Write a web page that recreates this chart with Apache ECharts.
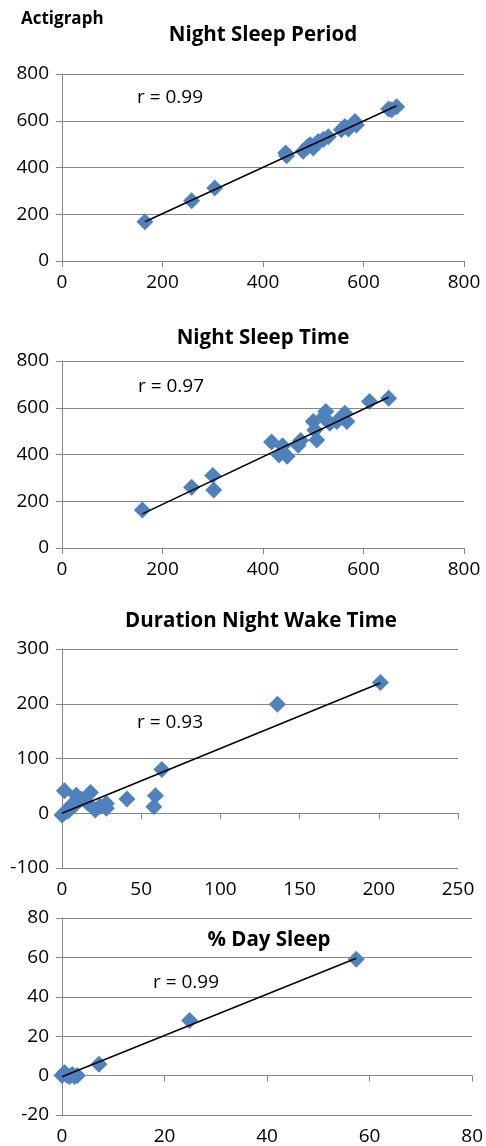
<!DOCTYPE html>
<html><head><meta charset="utf-8">
<script src="https://cdn.jsdelivr.net/npm/echarts@6/dist/echarts.min.js"></script>
<style>html,body{margin:0;padding:0;background:#fff}#c{width:486px;height:1146px}</style>
</head><body><div id="c"></div>
<script>
// Panel 1: Night Sleep Period
const x1 = [165, 258, 304, 445, 447, 480, 490, 494, 500, 505, 510, 520, 530, 556, 563, 570, 583, 586, 650, 656, 666];
const y1 = [168, 258, 312, 462, 450, 470, 492, 497, 483, 500, 511, 520, 532, 561, 575, 565, 597, 582, 650, 647, 660];
const trend1 = [[165, 168], [666, 664]];
// Panel 2: Night Sleep Time
const x2 = [160, 258, 300, 302, 417, 432, 439, 448, 470, 475, 500, 503, 507, 520, 525, 533, 547, 563, 567, 612, 650];
const y2 = [163, 260, 310, 248, 453, 398, 437, 393, 440, 460, 541, 505, 462, 560, 584, 534, 541, 577, 541, 627, 641];
const trend2 = [[160, 146], [650, 645]];
// Panel 3: Duration Night Wake Time
const x3 = [0, 1.5, 2, 4, 5, 6, 8, 9, 10, 12, 16, 18, 21, 24, 28, 28, 41, 58, 59, 63, 136, 201];
const y3 = [-3, 41, 2, 4, 8, 15, 15, 33, 22, 26, 19, 38, 6, 13, 18, 9, 26, 12, 32, 80, 199, 239];
const trend3 = [[0, 0], [201, 238]];
// Panel 4: % Day Sleep
const x4 = [0, 0.5, 1, 1.5, 2, 2.5, 3, 7.2, 24.9, 57.4];
const y4 = [0, 1.5, 0, -0.5, 0.5, -0.5, 0, 5.8, 28, 59];
const trend4 = [[0, -0.6], [57.4, 59.6]];

const titles = ['Night Sleep Period', 'Night Sleep Time', 'Duration Night Wake Time', '% Day Sleep'];
const rLabels = ['r = 0.99', 'r = 0.97', 'r = 0.93', 'r = 0.99'];
const xRanges = [[0, 800, 200], [0, 800, 200], [0, 250, 50], [0, 80, 20]];
const yRanges = [[0, 800, 200], [0, 800, 200], [-100, 300, 100], [-20, 80, 20]];

const FONT = '"Open Sans", "Noto Sans", sans-serif';
const GRAY = '#868686';
const BLUE = '#4F81BD';

const grids = [
  {left: 62, top: 74, width: 402, height: 187},
  {left: 62, top: 361, width: 402, height: 187},
  {left: 62, top: 649, width: 396, height: 219},
  {left: 62, top: 918, width: 414, height: 218}
];
const titlePos = [[263, 35], [263, 338], [261, 621], [269, 940]];
const rPos = [[137, 98], [138, 387], [137, 723], [153, 983]];

const xs = [x1, x2, x3, x4], ys = [y1, y2, y3, y4], trends = [trend1, trend2, trend3, trend4];

const xAxis = [], yAxis = [], series = [], graphic = [];
for (let i = 0; i < 4; i++) {
  xAxis.push({
    type: 'value', gridIndex: i, min: xRanges[i][0], max: xRanges[i][1], interval: xRanges[i][2],
    axisLine: {onZero: true, lineStyle: {color: GRAY, width: 1}},
    axisTick: {show: true, length: 6, lineStyle: {color: GRAY}},
    axisLabel: {color: '#000', fontSize: 19, fontFamily: FONT, margin: 12, showMaxLabel: true, showMinLabel: true},
    splitLine: {show: false}
  });
  yAxis.push({
    type: 'value', gridIndex: i, min: yRanges[i][0], max: yRanges[i][1], interval: yRanges[i][2],
    axisLine: {show: true, onZero: false, lineStyle: {color: GRAY, width: 1}},
    axisTick: {show: true, length: 6, lineStyle: {color: GRAY}},
    axisLabel: {color: '#000', fontSize: 19, fontFamily: FONT, margin: 13},
    splitLine: {show: true, lineStyle: {color: GRAY, width: 1}}
  });
  series.push({
    type: 'scatter', xAxisIndex: i, yAxisIndex: i, symbol: 'diamond', symbolSize: 17,
    itemStyle: {color: BLUE, opacity: 1}, data: xs[i].map((v, k) => [v, ys[i][k]]), z: 2, silent: true
  });
  series.push({
    type: 'line', xAxisIndex: i, yAxisIndex: i, data: trends[i], symbol: 'none',
    lineStyle: {color: '#000', width: 1.5}, z: 3, silent: true, animation: false
  });
  graphic.push({type: 'text', x: titlePos[i][0], y: titlePos[i][1], z: 10,
    style: {text: titles[i], font: 'bold 20.5px ' + FONT, fill: '#000', textAlign: 'center', textVerticalAlign: 'middle'}});
  graphic.push({type: 'text', x: rPos[i][0], y: rPos[i][1], z: 10,
    style: {text: rLabels[i], font: '19px ' + FONT, fill: '#000', textAlign: 'left', textVerticalAlign: 'middle'}});
}
graphic.push({type: 'text', x: 21, y: 19, z: 10,
  style: {text: 'Actigraph', font: 'bold 17px ' + FONT, fill: '#000', textAlign: 'left', textVerticalAlign: 'middle'}});

const chart = echarts.init(document.getElementById('c'), null, {renderer: 'canvas'});
chart.setOption({
  animation: false,
  backgroundColor: '#fff',
  grid: grids,
  xAxis, yAxis, series, graphic
});
</script></body></html>
